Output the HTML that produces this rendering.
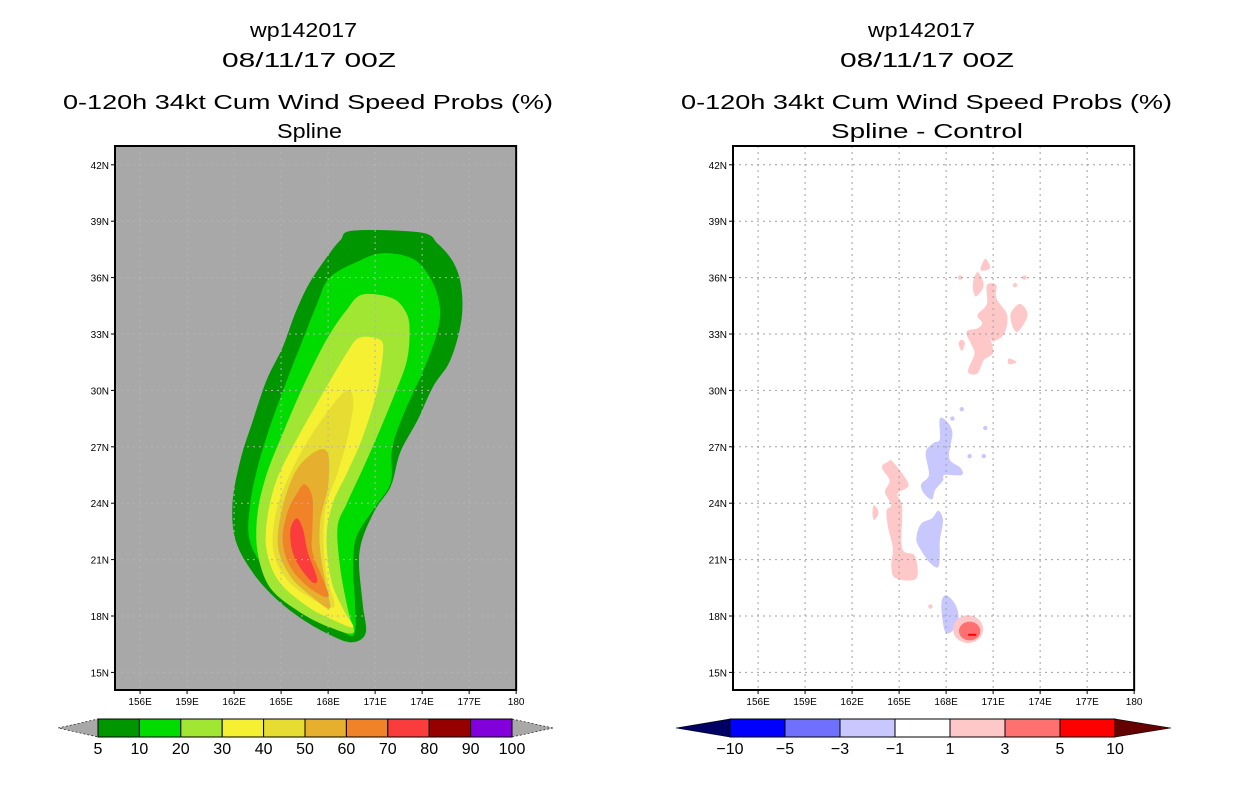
<!DOCTYPE html>
<html><head><meta charset="utf-8"><style>
html,body{margin:0;padding:0;background:#fff;}
svg{display:block;font-family:"Liberation Sans",sans-serif;}
</style></head><body>
<svg id="chart" width="1236" height="800" viewBox="0 0 1236 800">
<g font-size="20" fill="#000" text-anchor="start">
  <text x="250" y="37" textLength="107" lengthAdjust="spacingAndGlyphs">wp142017</text>
  <text x="222" y="67" textLength="174" lengthAdjust="spacingAndGlyphs">08/11/17 00Z</text>
  <text x="63" y="109" textLength="490" lengthAdjust="spacingAndGlyphs">0-120h 34kt Cum Wind Speed Probs (%)</text>
  <text x="277" y="138" textLength="65" lengthAdjust="spacingAndGlyphs">Spline</text>
  <text x="868" y="37" textLength="107" lengthAdjust="spacingAndGlyphs">wp142017</text>
  <text x="840" y="67" textLength="174" lengthAdjust="spacingAndGlyphs">08/11/17 00Z</text>
  <text x="681" y="109" textLength="491" lengthAdjust="spacingAndGlyphs">0-120h 34kt Cum Wind Speed Probs (%)</text>
  <text x="831" y="138" textLength="192" lengthAdjust="spacingAndGlyphs">Spline - Control</text>
</g>
<g id="left"></g>
<g id="right"></g>
<g id="cbars"></g>
</svg>
<script>
const lonTicks = [156,159,162,165,168,171,174,177,180];
const latTicks = [15,18,21,24,27,30,33,36,39,42];
const probLevels = [5,10,20,30,40,50,60,70,80,90,100];
const probColors = ["#009600","#00dc00","#a0e632","#f5f032","#e6dc32","#e6af2d","#f08228","#fa3c3c","#960000","#8200dc"];
const diffLevels = [-10,-5,-3,-1,1,3,5,10];
const diffColors = ["#0000ff","#7070ff","#c8c8ff","#ffffff","#ffc8c8","#ff7070","#ff0000"];

// probability contours [lon,lat]
const c5 = [[169.6,38.5],[173.9,38.4],[175.0,37.8],[176.0,36.8],[176.5,35.5],[176.5,33.7],[175.8,31.6],[174.7,30.2],[173.7,28.4],[172.6,26.7],[172.0,24.9],[170.9,23.5],[170.0,21.4],[170.2,18.7],[170.4,17.1],[169.5,16.6],[168.1,17.0],[166.4,17.8],[164.7,18.9],[163.2,20.3],[162.1,22.0],[161.9,24.0],[162.4,26.3],[163.2,28.4],[164.1,30.6],[165.1,32.3],[165.9,34.1],[166.8,35.7],[168.1,37.3],[168.8,38.0]];
const c10 = [[171.5,37.3],[173.4,37.0],[174.5,36.0],[175.1,34.6],[175.0,33.2],[174.1,31.1],[173.0,29.1],[172.1,27.0],[172.0,25.1],[171.0,23.8],[169.8,22.2],[169.6,20.4],[169.7,18.9],[169.7,17.1],[169.0,17.1],[167.5,17.8],[165.8,18.7],[164.1,20.3],[163.0,22.0],[163.0,23.8],[163.5,25.9],[164.3,28.1],[165.4,30.6],[166.2,32.3],[167.3,34.6],[168.1,36.0],[170.0,36.9]];
const c20 = [[170.2,35.1],[172.1,34.9],[173.0,34.1],[173.2,33.1],[173.0,31.5],[172.1,29.5],[171.1,27.5],[170.2,25.8],[169.2,24.0],[168.6,22.7],[168.8,20.4],[169.3,18.2],[169.6,17.1],[168.1,17.4],[166.2,18.2],[164.3,19.5],[163.5,21.4],[163.5,23.5],[164.1,25.6],[165.1,27.7],[166.4,30.2],[167.9,32.7],[169.2,34.3]];
const c30 = [[170.0,32.8],[171.3,32.7],[171.5,32.0],[171.1,29.9],[170.2,27.5],[169.2,25.6],[168.3,24.0],[167.9,22.2],[168.2,19.9],[169.0,18.3],[169.6,17.4],[168.3,17.8],[166.7,18.5],[164.9,19.8],[164.1,21.4],[164.1,23.1],[164.7,25.2],[166.0,27.4],[167.7,29.9],[169.2,32.0]];
const c40 = [[169.0,29.9],[169.6,29.5],[169.3,27.7],[168.6,25.6],[167.9,24.0],[167.7,22.2],[167.9,20.1],[168.4,18.5],[167.0,18.9],[165.4,19.9],[164.5,21.5],[164.7,23.6],[165.6,25.6],[167.0,27.7]];
const c50 = [[167.3,26.8],[168.0,26.6],[168.0,24.9],[167.5,23.1],[167.5,21.4],[167.9,19.5],[168.1,18.4],[167.0,19.0],[165.6,20.1],[164.8,21.7],[165.1,23.8],[166.0,25.8]];
const c60 = [[166.5,25.0],[167.0,24.3],[167.0,22.7],[167.0,21.4],[167.7,19.9],[168.0,19.0],[166.8,19.5],[165.6,20.6],[165.1,22.0],[165.4,23.5],[166.0,24.5]];
const c70 = [[166.0,23.2],[166.4,22.6],[166.7,21.4],[167.3,20.0],[167.0,19.8],[166.2,20.6],[165.7,21.5],[165.6,22.6]];

// difference blobs [lon,lat]
const pinkA = [[170.6,35.6],[171.2,35.6],[171.2,34.9],[171.9,34.0],[171.7,33.0],[171.0,32.6],[170.8,32.8],[171.0,32.0],[170.4,31.6],[170.0,30.9],[169.4,31.0],[169.8,31.9],[169.7,32.3],[169.3,33.1],[170.0,33.3],[170.3,33.6],[170.0,34.0],[170.6,34.6]];
const pinkTop = [[170.0,36.3],[170.4,35.6],[169.9,35.0],[169.7,35.6]];
const pinkRight = [[172.7,34.6],[173.2,34.0],[172.5,33.1],[172.1,34.0]];
const pinkTip = [[170.5,37.0],[170.8,36.5],[170.2,36.4]];
const pinkLeft = [[169.0,32.7],[169.2,32.5],[169.0,32.1],[168.8,32.5]];
const pinkSmall = [[172.0,31.7],[172.5,31.5],[172.0,31.4]];
const pinkB = [[164.3,26.2],[164.6,26.2],[165.6,25.0],[164.9,24.5],[165.2,23.8],[165.2,21.6],[166.0,21.2],[166.1,20.0],[164.8,20.0],[164.5,20.6],[164.6,21.6],[164.3,22.7],[164.2,23.6],[164.5,23.9],[164.1,24.6],[164.4,25.2],[163.9,25.9]];
const pinkB2 = [[163.4,23.9],[163.7,23.5],[163.4,23.1],[163.3,23.5]];
const blueC = [[167.6,28.5],[168.1,28.3],[168.4,27.7],[168.2,26.4],[168.9,25.9],[169.0,25.5],[167.9,25.5],[167.8,25.2],[167.3,24.7],[167.1,24.2],[166.6,24.5],[166.4,25.0],[166.9,25.5],[166.7,26.7],[167.2,27.2],[167.6,27.4]];
const blueD = [[167.5,23.6],[167.8,23.1],[167.6,22.0],[167.6,21.3],[167.5,20.6],[167.0,20.8],[166.4,21.5],[166.1,22.1],[166.4,22.9],[167.1,23.2]];
const blueE = [[168.0,19.1],[168.6,18.6],[168.8,17.8],[168.4,17.2],[168.0,17.1],[167.8,17.6],[167.7,18.7]];
const pinkCircle = [169.4,17.3,0.96,0.74];
const redCircle = [169.5,17.2,0.68,0.5];
const blueDots = [[168.4,28.5],[169.5,26.5],[170.5,28.0],[170.4,26.5],[169.0,29.0]];
const pinkDots = [[168.9,36.0],[173.0,36.0],[172.4,35.6],[167.0,18.5]];

const NS = "http://www.w3.org/2000/svg";
const LON0 = 154.4, LAT0 = 43, PXLON = 15.67, PXLAT = 18.8, TOP = 146, BOT = 690;
function mk(tag, attrs, parent){ const e=document.createElementNS(NS,tag); for(const k in attrs) e.setAttribute(k,attrs[k]); parent.appendChild(e); return e; }
function xS(ox, lon){ return ox + (lon-LON0)*PXLON; }
function yS(lat){ return TOP + (LAT0-lat)*PXLAT; }
function smoothPath(ox, pts){
  const p = pts.map(d=>[xS(ox,d[0]), yS(d[1])]); const n=p.length;
  let s = "M"+p[0][0].toFixed(1)+","+p[0][1].toFixed(1);
  for(let i=0;i<n;i++){
    const p0=p[(i-1+n)%n], p1=p[i], p2=p[(i+1)%n], p3=p[(i+2)%n];
    const c1=[p1[0]+(p2[0]-p0[0])/6, p1[1]+(p2[1]-p0[1])/6];
    const c2=[p2[0]-(p3[0]-p1[0])/6, p2[1]-(p3[1]-p1[1])/6];
    s+="C"+c1[0].toFixed(1)+","+c1[1].toFixed(1)+" "+c2[0].toFixed(1)+","+c2[1].toFixed(1)+" "+p2[0].toFixed(1)+","+p2[1].toFixed(1);
  }
  return s+"Z";
}

function panel(g, ox, bg, gridColor){
  const right = xS(ox,180);
  const bgr = mk("rect",{x:ox,y:TOP,width:right-ox,height:BOT-TOP,fill:bg},g);
  
  
  return right;
}
function grid(g, ox, right, color){
  lonTicks.slice(0,-1).forEach(l=>{
    const ln=mk("line",{x1:xS(ox,l),x2:xS(ox,l),y1:TOP,y2:BOT,stroke:color,"stroke-width":1,"stroke-dasharray":"2,4"},g);
    
    
  });
  latTicks.forEach(l=>{
    const ln=mk("line",{x1:ox,x2:right,y1:yS(l),y2:yS(l),stroke:color,"stroke-width":1,"stroke-dasharray":"2,4"},g);
    
    
  });
}
function axes(g, ox, right){
  const fr=mk("rect",{x:ox,y:TOP,width:right-ox,height:BOT-TOP,fill:"none",stroke:"#000","stroke-width":2},g);
  
  
  lonTicks.forEach(l=>{
    const x=xS(ox,l);
    mk("line",{x1:x,x2:x,y1:BOT,y2:BOT+4,stroke:"#000","stroke-width":1},g);
    const t=mk("text",{x:x,y:BOT+15,"font-size":10,"text-anchor":"middle"},g);
    t.textContent = l===180 ? "180" : l+"E";
    
    
  });
  latTicks.forEach(l=>{
    const y=yS(l);
    mk("line",{x1:ox-4,x2:ox,y1:y,y2:y,stroke:"#000","stroke-width":1},g);
    const t=mk("text",{x:ox-6,y:y+4,"font-size":10,"text-anchor":"end"},g);
    t.textContent = l+"N";
    
    
  });
}

// LEFT PANEL
const L = document.getElementById("left"), LX = 115;
const LR = panel(L, LX, "#a8a8a8");
[c5,c10,c20,c30,c40,c50,c60,c70].forEach((c,i)=>{
  const p=mk("path",{d:smoothPath(LX,c),fill:probColors[i]},L);
  
  
});
grid(L, LX, LR, "#b4b4b4");
axes(L, LX, LR);

// RIGHT PANEL
const R = document.getElementById("right"), RX = 733;
const RR = panel(R, RX, "#ffffff");
[[pinkA,"#ffc8c8"],[pinkTop,"#ffc8c8"],[pinkRight,"#ffc8c8"],[pinkTip,"#ffc8c8"],[pinkLeft,"#ffc8c8"],[pinkSmall,"#ffc8c8"],[pinkB,"#ffc8c8"],[pinkB2,"#ffc8c8"],[blueC,"#c8c8ff"],[blueD,"#c8c8ff"],[blueE,"#c8c8ff"]].forEach(([b,c])=>{
  const p=mk("path",{d:smoothPath(RX,b),fill:c},R);
  
  
});
[[pinkCircle,"#ffc8c8"],[redCircle,"#ff7070"]].forEach(([e,c])=>{
  const el=mk("ellipse",{cx:xS(RX,e[0]),cy:yS(e[1]),rx:e[2]*PXLON,ry:e[3]*PXLAT,fill:c},R);
  
  
});
const core=mk("rect",{x:xS(RX,169.6)-3,y:yS(17.0)-1,width:8,height:2,fill:"#ff0000"},R);


blueDots.forEach(d=>{ const c=mk("circle",{cx:xS(RX,d[0]),cy:yS(d[1]),r:2.2,fill:"#c8c8ff"},R);
  
   });
pinkDots.forEach(d=>{ const c=mk("circle",{cx:xS(RX,d[0]),cy:yS(d[1]),r:2.2,fill:"#ffc8c8"},R);
  
   });
grid(R, RX, RR, "#a0a0a0");
axes(R, RX, RR);

// COLORBARS
const CB = document.getElementById("cbars");
function colorbar(x0, x1, tl, tr, y0, y1, levels, colors, endL, endR, name){
  const n=colors.length, w=(x1-x0)/n, ym=(y0+y1)/2;
  const a=mk("polygon",{points:`${tl},${ym} ${x0},${y0} ${x0},${y1}`,fill:endL,stroke:"#000","stroke-width":0.6,"stroke-dasharray":endL==="#a8a8a8"?"2,2":"none"},CB);
  
  
  const b=mk("polygon",{points:`${tr},${ym} ${x1},${y0} ${x1},${y1}`,fill:endR,stroke:"#000","stroke-width":0.6,"stroke-dasharray":endR==="#a8a8a8"?"2,2":"none"},CB);
  
  
  colors.forEach((c,i)=>{
    const r=mk("rect",{x:x0+i*w,y:y0,width:w,height:y1-y0,fill:c,stroke:"#000","stroke-width":1},CB);
    
    
  });
  levels.forEach((v,i)=>{
    const t=mk("text",{x:x0+i*w,y:y1+17,"font-size":16,"text-anchor":"middle"},CB);
    t.textContent = String(v).replace("-","\u2212");
    
    
  });
}
colorbar(98, 512, 58, 553, 719, 737, probLevels, probColors, "#a8a8a8", "#a8a8a8", "prob-colorbar");
colorbar(730, 1115, 676, 1171, 719, 737, diffLevels, diffColors, "#000064", "#640000", "diff-colorbar");
</script>
</body></html>
